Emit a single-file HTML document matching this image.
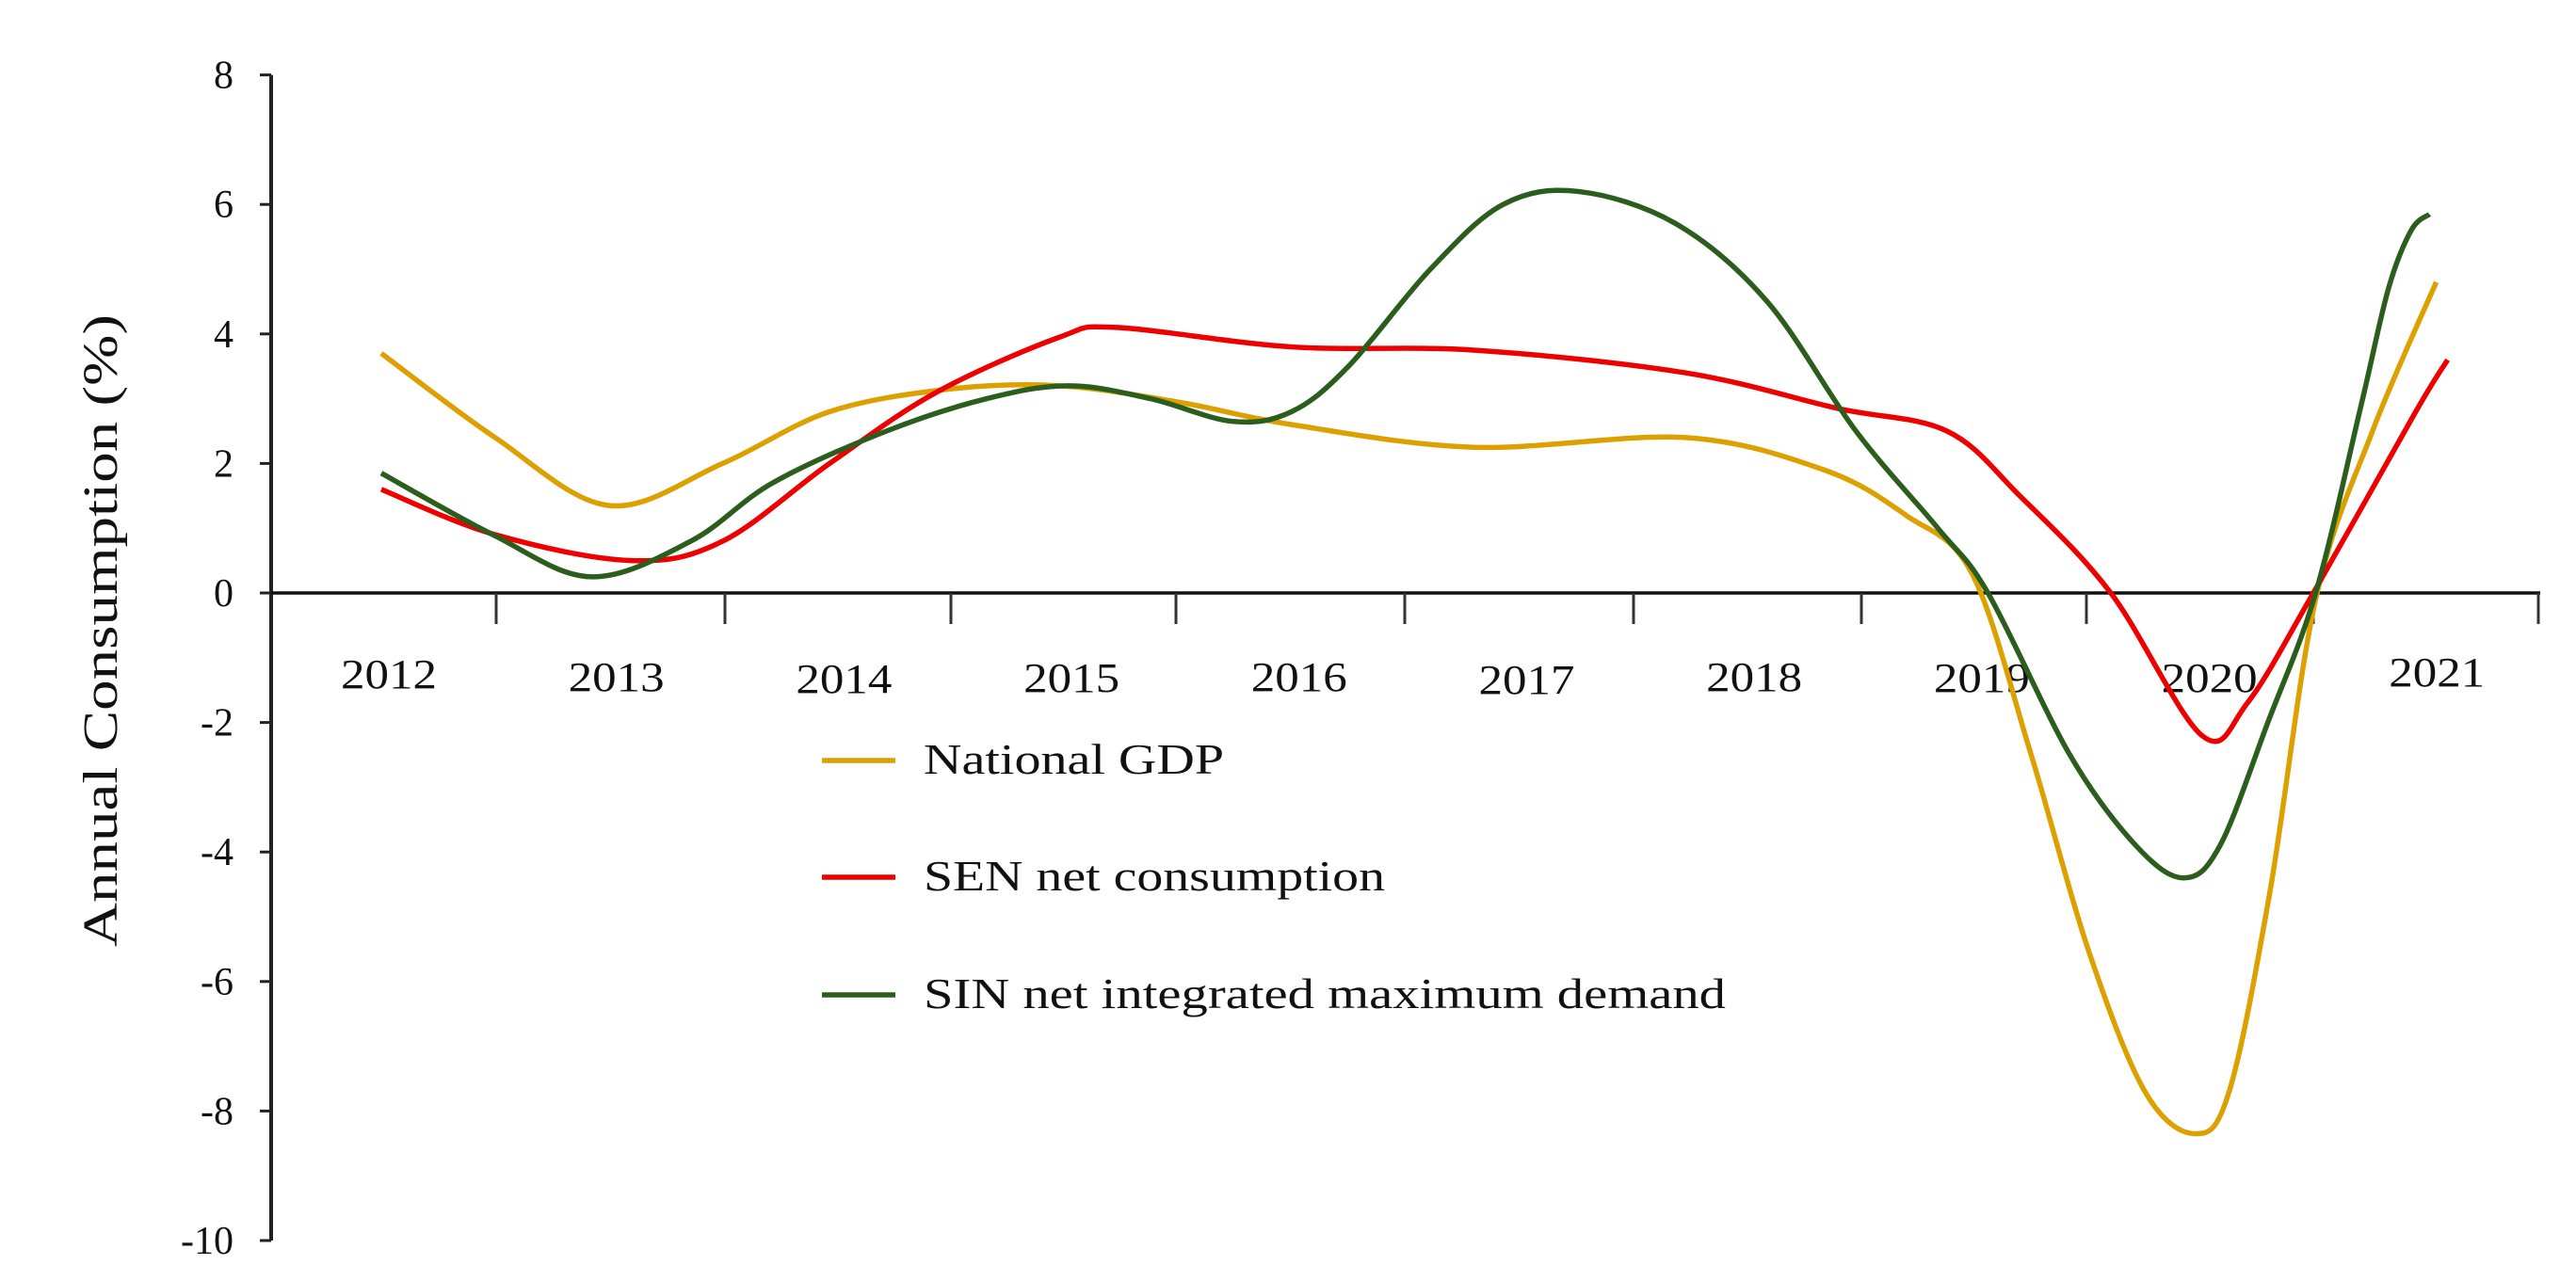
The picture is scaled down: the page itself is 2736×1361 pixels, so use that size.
<!DOCTYPE html>
<html><head><meta charset="utf-8"><style>
html,body{margin:0;padding:0;background:#fff;}
svg{display:block;font-family:"Liberation Serif",serif;}
</style></head><body>
<svg id="chart" width="2736" height="1361" viewBox="0 0 2736 1361">
<g id="axes"></g>
<g id="series"></g>
<g id="legend"></g>
<text transform="translate(124,670) rotate(-90)" text-anchor="middle" font-size="52" textLength="672" lengthAdjust="spacingAndGlyphs" fill="#111">Annual Consumption (%)</text>
</svg>
<script>
const years = ["2012","2013","2014","2015","2016","2017","2018","2019","2020","2021"];
const yTicks = [8,6,4,2,0,-2,-4,-6,-8,-10];
const gdpT = [0,0.5,1.0,1.5,1.97,2.5,2.98,3.5,4.0,4.8,5.73,6.34,6.7,6.99,7.25,7.5,7.75,7.97,8.12,8.3,8.5,8.75,9.03];
const gdpV = [3.7,2.4,1.35,2.0,2.8,3.15,3.2,2.95,2.6,2.25,2.4,1.9,1.2,0.3,-2.5,-5.5,-7.7,-8.35,-7.7,-4.6,-0.1,2.5,4.8];
const senT = [0,0.5,1.1,1.5,1.97,2.44,2.98,3.23,4.0,4.8,5.73,6.4,6.88,7.2,7.6,8.0,8.2,8.49,8.94,9.08];
const senV = [1.6,0.9,0.5,0.8,2.0,3.1,3.95,4.1,3.8,3.75,3.4,2.85,2.5,1.5,0.0,-2.2,-1.7,0.0,2.8,3.6];
const sinT = [0,0.49,0.92,1.36,1.72,2.22,2.66,3.02,3.38,3.74,4.0,4.25,4.61,4.93,5.26,5.69,6.09,6.48,6.84,7.06,7.42,7.71,7.92,8.08,8.29,8.5,8.7,8.82,8.92,9.0];
const sinV = [1.85,0.9,0.25,0.8,1.7,2.5,3.0,3.2,3.0,2.65,2.8,3.5,5.0,6.0,6.2,5.7,4.5,2.5,1.0,0.0,-2.5,-3.9,-4.4,-3.9,-2.0,0.0,2.9,4.7,5.6,5.85];
const legendLabels = ["National GDP","SEN net consumption","SIN net integrated maximum demand"];
const colors = ["#dca000","#ee0000","#2b5e1c"];

const NS="http://www.w3.org/2000/svg";
function xS(t){return 405+241.7*t;}
function yS(v){return 630-v*68.8;}
function mk(tag,attrs,parent){const e=document.createElementNS(NS,tag);for(const k in attrs)e.setAttribute(k,attrs[k]);parent.appendChild(e);return e;}
const axes=document.getElementById('axes');
let ya=mk('line',{x1:288,y1:yS(8),x2:288,y2:yS(-10),stroke:'#222','stroke-width':4},axes);


yTicks.forEach(v=>{
  let tk=mk('line',{x1:276,y1:yS(v),x2:288,y2:yS(v),stroke:'#222','stroke-width':3},axes);
  
  
  let tl=mk('text',{x:248,y:yS(v)+14,'text-anchor':'end','font-size':42,fill:'#111'},axes);
  tl.textContent=v;
  
  
});
let xa=mk('line',{x1:288,y1:yS(0),x2:2698,y2:yS(0),stroke:'#111','stroke-width':3.5},axes);


const tickXs=[527,770,1010,1249,1492,1735,1977,2216,2457,2696];
tickXs.forEach(x=>{
  let tk=mk('line',{x1:x,y1:yS(0),x2:x,y2:yS(0)+33,stroke:'#333','stroke-width':3},axes);
  
  
});
const labelOff=[0,3,5,4,3,6,3,4,4,-2];
years.forEach((y,i)=>{
  let tl=mk('text',{x:xS(i)+8-51,y:731+labelOff[i],'font-size':44,textLength:102,lengthAdjust:'spacingAndGlyphs',fill:'#111'},axes);
  tl.textContent=y;
  
  
});
function pathFrom(T,V){
  const p=T.map((t,i)=>[xS(t),yS(V[i])]);
  let d=`M${p[0][0]},${p[0][1]}`;
  for(let i=0;i<p.length-1;i++){
    const p0=p[i-1]||p[i],p1=p[i],p2=p[i+1],p3=p[i+2]||p[i+1];
    const c1=[p1[0]+(p2[0]-p0[0])/6,p1[1]+(p2[1]-p0[1])/6];
    const c2=[p2[0]-(p3[0]-p1[0])/6,p2[1]-(p3[1]-p1[1])/6];
    d+=` C${c1[0]},${c1[1]} ${c2[0]},${c2[1]} ${p2[0]},${p2[1]}`;
  }
  return d;
}
const sg=document.getElementById('series');
const sets=[[gdpT,gdpV,'gdp-line'],[senT,senV,'sen-consumption-line'],[sinT,sinV,'sin-demand-line']];
sets.forEach((s,i)=>{
  let pth=mk('path',{d:pathFrom(s[0],s[1]),fill:'none',stroke:colors[i],'stroke-width':5.5,'stroke-linejoin':'round'},sg);
  
  
});
const lg=document.getElementById('legend');
const ly=[808,932,1057];
const legendW=[319,490,852];
legendLabels.forEach((l,i)=>{
  let ln=mk('line',{x1:873,y1:ly[i],x2:951,y2:ly[i],stroke:colors[i],'stroke-width':5.5},lg);
  
  
  let tx=mk('text',{x:981,y:ly[i]+14,'font-size':46,textLength:legendW[i],lengthAdjust:'spacingAndGlyphs',fill:'#111'},lg);
  tx.textContent=l;
  
  
});
</script>
</body></html>
